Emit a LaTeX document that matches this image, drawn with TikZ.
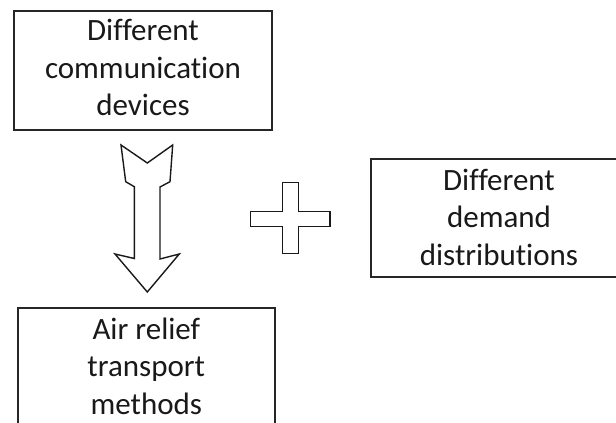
\documentclass[tikz,border=0pt]{standalone}
\usepackage{fontspec}
\setmainfont{Carlito}[Ligatures={NoCommon,NoContextual}]
\begin{document}
\begin{tikzpicture}[x=1pt,y=-1pt,
  boxstyle/.style={draw=black!85, line width=1.5pt, fill=white, inner sep=0pt},
  txtstyle/.style={align=center, font=\fontsize{31}{37.5}\selectfont, text=black!90, inner sep=0pt},
  shapestyle/.style={draw=black!90, line width=1.4pt, line join=miter, fill=white}]
\useasboundingbox (0,0) rectangle (616,423);
% boxes
\node[boxstyle, minimum width=258pt, minimum height=119pt] (dev) at (143,70.5) {};
\node[txtstyle] (devtxt) at (143,67.5) {Different\\communication\\devices};
\node[boxstyle, minimum width=256pt, minimum height=118pt] (dem) at (499,218) {};
\node[txtstyle] (demtxt) at (499,217) {Different\\demand\\distributions};
\node[boxstyle, minimum width=257pt, minimum height=122pt] (air) at (146.3,369) {};
\node[txtstyle] (airtxt) at (146.3,366) {Air relief\\transport\\methods};
% block arrow
\draw[shapestyle] (121,145) -- (147.3,163) -- (172.7,145) -- (170,181.7) -- (160,187)
  -- (160,259) -- (179.3,254) -- (147.3,292) -- (115,254) -- (134.3,258.5)
  -- (134.3,186.7) -- (125.7,181.7) -- cycle;
% plus sign
\draw[shapestyle] (282.7,182.7) -- (298.3,182.7) -- (298.3,211.7) -- (330,211.7)
  -- (330,226.7) -- (298.3,226.7) -- (298.3,253.3) -- (282.7,253.3) -- (282.7,226.7)
  -- (250.7,226.7) -- (250.7,211.7) -- (282.7,211.7) -- cycle;
\end{tikzpicture}
\end{document}
